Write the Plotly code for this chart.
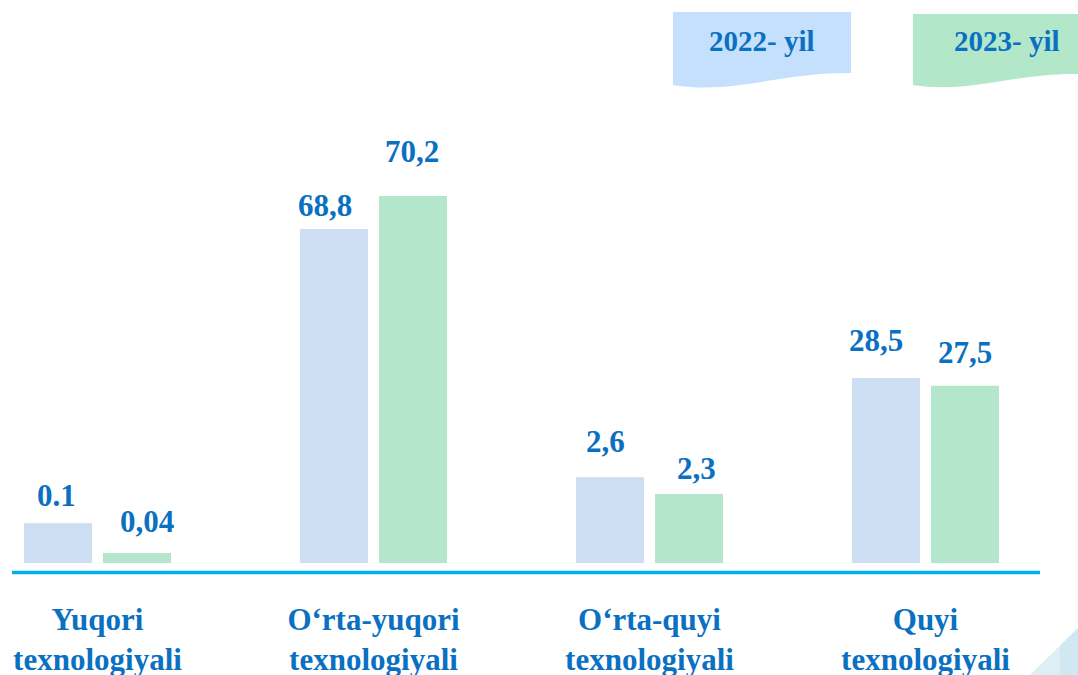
import plotly.graph_objects as go

# categories and values (labels as printed on the chart)
categories = [
    "Yuqori<br>texnologiyali",
    "O‘rta-yuqori<br>texnologiyali",
    "O‘rta-quyi<br>texnologiyali",
    "Quyi<br>texnologiyali",
]
labels_2022 = ["0.1", "68,8", "2,6", "28,5"]
labels_2023 = ["0,04", "70,2", "2,3", "27,5"]

# the original infographic is not drawn to scale: bar lengths as read off
# the picture, expressed in the same units (70,2 bar = 70.2)
bars_2022 = [7.6, 63.9, 16.4, 35.4]
bars_2023 = [1.9, 70.2, 13.2, 33.9]

# label nudges in pixels (dx, gap above bar), as placed in the original
nudge_2022 = [(-2, 16), (-9, 12), (-5, 24), (-10, 26)]
nudge_2023 = [(10, 20), (-1, 33), (7, 14), (0, 22)]

W, H = 1078, 675
TOP, BOTTOM = 100, 572  # plot area in pixels
SLOT = 276              # px per category
BAR_OFF = 39.5          # px from group centre to bar centre

BLUE_TXT = "#0A70C2"
FONT = "Liberation Serif, Times New Roman, serif"


def px(x, y):
    """pixel -> paper coords"""
    return x / W, (BOTTOM - y) / (BOTTOM - TOP)


fig = go.Figure()
fig.add_trace(go.Bar(
    x=categories, y=bars_2022, name="2022- yil",
    marker=dict(color="#CDDDF2", line=dict(width=0)),
    hoverinfo="skip",
))
fig.add_trace(go.Bar(
    x=categories, y=bars_2023, name="2023- yil",
    marker=dict(color="#B3E6CB", line=dict(width=0)),
    hoverinfo="skip",
))

annotations = []
for vals, labs, nudges, side in [(bars_2022, labels_2022, nudge_2022, -1),
                                 (bars_2023, labels_2023, nudge_2023, 1)]:
    for cat, v, lab, (dx, gap) in zip(categories, vals, labs, nudges):
        annotations.append(dict(
            x=cat, y=v, xref="x", yref="y", text=lab, showarrow=False,
            xanchor="center", yanchor="bottom",
            xshift=side * BAR_OFF + dx, yshift=gap - 8,
            font=dict(family=FONT, size=31, color=BLUE_TXT, weight="bold"),
        ))

shapes = []

# baseline
x0, y0 = px(12, 572.5)
x1, _ = px(1040, 572.5)
shapes.append(dict(type="line", xref="paper", yref="paper", x0=x0, x1=x1, y0=y0, y1=y0,
                   line=dict(color="#00B0F0", width=3.5)))


def banner(xl, xr, yt, yr_bot, yl_bot, ylow, color):
    pts = [px(xl, yt), px(xr, yt), px(xr, yr_bot)]
    c1 = px(xr - (xr - xl) * 0.4, yr_bot - 1)
    c2 = px(xl + (xr - xl) * 0.35, ylow + 6)
    end = px(xl, yl_bot)
    path = (f"M {pts[0][0]},{pts[0][1]} L {pts[1][0]},{pts[1][1]} L {pts[2][0]},{pts[2][1]} "
            f"C {c1[0]},{c1[1]} {c2[0]},{c2[1]} {end[0]},{end[1]} Z")
    return dict(type="path", xref="paper", yref="paper", path=path,
                fillcolor=color, line=dict(width=0), layer="below")


shapes.append(banner(673, 851, 12, 73, 85, 89, "#C5E0FC"))
shapes.append(banner(913, 1078, 14, 74, 85, 88, "#B3E7CA"))

# corner decoration
a, b, c = px(1030, 675), px(1078, 628), px(1078, 675)
shapes.append(dict(type="path", xref="paper", yref="paper",
                   path=f"M {a[0]},{a[1]} L {b[0]},{b[1]} L {c[0]},{c[1]} Z",
                   fillcolor="#DDEEF5", line=dict(width=0)))
d, e = px(1060, 646), px(1060, 675)
shapes.append(dict(type="path", xref="paper", yref="paper",
                   path=f"M {d[0]},{d[1]} L {b[0]},{b[1]} L {c[0]},{c[1]} L {e[0]},{e[1]} Z",
                   fillcolor="#D0E8F1", line=dict(width=0)))

for txt, cx in [("2022- yil", 762), ("2023- yil", 1007)]:
    ax, ay = px(cx, 41)
    annotations.append(dict(text=txt, xref="paper", yref="paper", x=ax, y=ay,
                            xanchor="center", yanchor="middle", showarrow=False,
                            font=dict(family=FONT, size=29, color=BLUE_TXT, weight="bold")))

px_per_unit = 367 / 70.2
fig.update_layout(
    width=W, height=H,
    margin=dict(l=0, r=0, t=TOP, b=H - BOTTOM, pad=0, autoexpand=False),
    paper_bgcolor="white", plot_bgcolor="white",
    barmode="group", bargap=0.4275, bargroupgap=0.139,
    showlegend=False,
    xaxis=dict(range=[-97.5 / SLOT, (W - 97.5) / SLOT], showgrid=False, showline=False,
               zeroline=False, ticks="", ticklabelstandoff=26, automargin=False,
               tickfont=dict(family=FONT, size=31, color=BLUE_TXT, weight="bold")),
    yaxis=dict(range=[-9 / px_per_unit, (BOTTOM - 9 - TOP) / px_per_unit], visible=False,
               automargin=False),
    shapes=shapes,
    annotations=annotations,
)

fig.write_html("out.html", config={"displayModeBar": False},
               post_script="document.body.style.margin='0';")
